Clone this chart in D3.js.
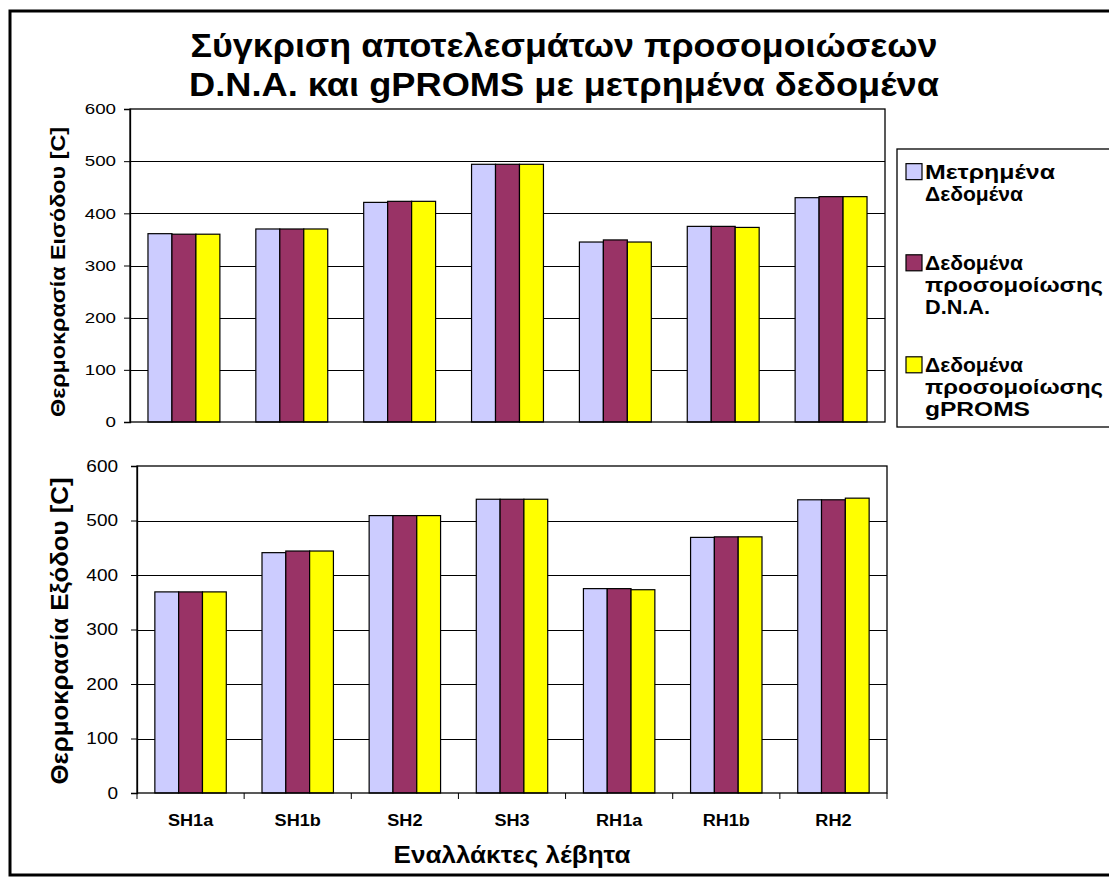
<!DOCTYPE html>
<html>
<head>
<meta charset="utf-8">
<script src="https://cdn.jsdelivr.net/npm/d3@7"></script>
<style>
  html, body { margin: 0; padding: 0; background: #fff; }
  svg { display: block; }
  text { font-family: "Liberation Sans", Arial, Helvetica, sans-serif; fill: #000; }
</style>
</head>
<body>
<svg id="chart" width="1109" height="890"></svg>
<script>
// Heat exchangers of the boiler
const categories = ["SH1a", "SH1b", "SH2", "SH3", "RH1a", "RH1b", "RH2"];

// Series names (legend lines)
const seriesNames = [
  ["Μετρημένα", "Δεδομένα"],
  ["Δεδομένα", "προσομοίωσης", "D.N.A."],
  ["Δεδομένα", "προσομοίωσης", "gPROMS"]
];
const seriesColors = ["#CCCCFF", "#993366", "#FFFF00"];

// Inlet temperatures [C]
const inletMeasured = [361, 370, 421, 494, 345, 375, 430];
const inletDNA      = [360, 370, 423, 494, 349, 375, 432];
const inletGPROMS   = [360, 370, 423, 494, 345, 373, 432];

// Outlet temperatures [C]
const outletMeasured = [369, 441, 509, 539, 375, 469, 538];
const outletDNA      = [369, 444, 509, 539, 375, 470, 538];
const outletGPROMS   = [369, 444, 509, 539, 373, 470, 541];

const yTicks = [0, 100, 200, 300, 400, 500, 600];

const titleLines = ["Σύγκριση αποτελεσμάτων προσομοιώσεων", "D.N.A. και gPROMS με μετρημένα δεδομένα"];
const inletLabel = "Θερμοκρασία Εισόδου [C]";
const outletLabel = "Θερμοκρασία Εξόδου [C]";
const xLabel = "Εναλλάκτες λέβητα";

const FONT = '"Liberation Sans", Arial, Helvetica, sans-serif';
const svg = d3.select("#chart");

// widen glyphs horizontally by a factor (the chart uses a broad sans face)
function widen(sel, factor) {
  sel.each(function () {
    const w = this.getComputedTextLength();
    d3.select(this).attr("textLength", w * factor).attr("lengthAdjust", "spacingAndGlyphs");
  });
}
function fitTo(sel, width) {
  sel.attr("textLength", width).attr("lengthAdjust", "spacingAndGlyphs");
}

// outer frame
svg.append("rect")
  .attr("x", 10).attr("y", 11).attr("width", 1120).attr("height", 864)
  .attr("fill", "none").attr("stroke", "#000").attr("stroke-width", 3);

// title
const titleWidths = [747, 750];
svg.selectAll("text.title").data(titleLines).join("text")
  .attr("class", "title")
  .attr("x", 564).attr("y", (d, i) => 57 + i * 39)
  .attr("text-anchor", "middle")
  .attr("font-size", 34).attr("font-weight", "bold")
  .text(d => d)
  .each(function (d, i) { fitTo(d3.select(this), titleWidths[i]); });

function drawPanel(cfg) {
  const { left, right, top, bottom, series, label, tickFont, tickWiden, tickPad,
          labelFont, labelLen, labelX, labelY, showX } = cfg;
  const g = svg.append("g");

  const x = d3.scaleBand().domain(categories).range([left, right])
    .paddingInner(1 / 3).paddingOuter(1 / 6);
  const xs = d3.scaleBand().domain(d3.range(series.length)).range([0, x.bandwidth()]);
  const y = d3.scaleLinear().domain([0, 600]).range([bottom, top]);

  // gridlines
  g.append("g").selectAll("line").data(yTicks.slice(1, -1)).join("line")
    .attr("x1", left).attr("x2", right)
    .attr("y1", d => Math.round(y(d)) + 0.5).attr("y2", d => Math.round(y(d)) + 0.5)
    .attr("stroke", "#000").attr("stroke-width", 1);

  // bars
  const groups = g.append("g").selectAll("g").data(categories).join("g")
    .attr("transform", d => `translate(${x(d)},0)`);
  groups.selectAll("rect")
    .data((d, i) => series.map((s, k) => ({ k, v: s[i] })))
    .join("rect")
    .attr("x", d => xs(d.k))
    .attr("y", d => y(d.v))
    .attr("width", xs.bandwidth())
    .attr("height", d => y(0) - y(d.v))
    .attr("fill", d => seriesColors[d.k])
    .attr("stroke", "#000").attr("stroke-width", 1.2);

  // plot frame
  g.append("rect")
    .attr("x", left).attr("y", top).attr("width", right - left).attr("height", bottom - top)
    .attr("fill", "none").attr("stroke", "#000").attr("stroke-width", 1.3);

  // y axis
  const ya = g.append("g").attr("transform", `translate(${left},0)`)
    .call(d3.axisLeft(y).tickValues(yTicks).tickSize(6).tickPadding(tickPad).tickFormat(d3.format("d")));
  ya.select(".domain").attr("stroke", "#000").attr("stroke-width", 1.3);
  ya.selectAll(".tick line").attr("stroke", "#000");
  ya.selectAll(".tick text").attr("font-size", tickFont)
    .attr("font-family", FONT).attr("fill", "#000")
    .call(widen, tickWiden);

  // y axis title
  g.append("text")
    .attr("transform", `translate(${labelX},${labelY}) rotate(-90)`)
    .attr("text-anchor", "middle").attr("dominant-baseline", "central")
    .attr("font-size", labelFont).attr("font-weight", "bold")
    .text(label)
    .call(fitTo, labelLen);

  if (showX) {
    const xa = g.append("g").attr("transform", `translate(0,${bottom})`)
      .call(d3.axisBottom(x).tickSize(0).tickPadding(22));
    xa.select(".domain").remove();
    xa.selectAll(".tick text").attr("font-size", 16).attr("font-weight", "bold")
      .attr("font-family", FONT).attr("fill", "#000")
      .call(widen, 1.13);
    // category separators below the axis
    const step = x.step();
    g.append("g").selectAll("line").data(d3.range(categories.length + 1)).join("line")
      .attr("x1", i => left + i * step).attr("x2", i => left + i * step)
      .attr("y1", bottom).attr("y2", bottom + 6)
      .attr("stroke", "#000");
  }
  return x;
}

drawPanel({
  left: 130, right: 885, top: 109, bottom: 422,
  series: [inletMeasured, inletDNA, inletGPROMS],
  label: inletLabel, tickFont: 15, tickWiden: 1.25, tickPad: 8,
  labelFont: 21, labelLen: 290, labelX: 57, labelY: 272, showX: false
});

drawPanel({
  left: 137, right: 887, top: 466, bottom: 793,
  series: [outletMeasured, outletDNA, outletGPROMS],
  label: outletLabel, tickFont: 16.5, tickWiden: 1.15, tickPad: 13,
  labelFont: 24, labelLen: 307, labelX: 59, labelY: 631, showX: true
});

// x axis title
svg.append("text")
  .attr("x", 512).attr("y", 863)
  .attr("text-anchor", "middle")
  .attr("font-size", 23).attr("font-weight", "bold")
  .text(xLabel)
  .call(fitTo, 237);

// legend: three equal slots, text centred in each
const lg = svg.append("g");
lg.append("rect")
  .attr("x", 897).attr("y", 149).attr("width", 230).attr("height", 278)
  .attr("fill", "#fff").attr("stroke", "#000").attr("stroke-width", 1.3);
const slotCentre = [182.5, 284.5, 386.5];
const lineH = 21.7;
const legendWidths = [[130, 98], [98, 178, 65], [98, 178, 105]];
seriesNames.forEach((lines, k) => {
  const first = slotCentre[k] - (lines.length - 1) * lineH / 2;
  lg.append("rect")
    .attr("x", 906).attr("y", first - 8).attr("width", 16).attr("height", 16)
    .attr("fill", seriesColors[k]).attr("stroke", "#000").attr("stroke-width", 1.2);
  lines.forEach((t, j) => {
    lg.append("text")
      .attr("x", 925).attr("y", first + j * lineH)
      .attr("dominant-baseline", "central")
      .attr("font-size", 21).attr("font-weight", "bold")
      .text(t)
      .call(fitTo, legendWidths[k][j]);
  });
});
</script>
</body>
</html>
